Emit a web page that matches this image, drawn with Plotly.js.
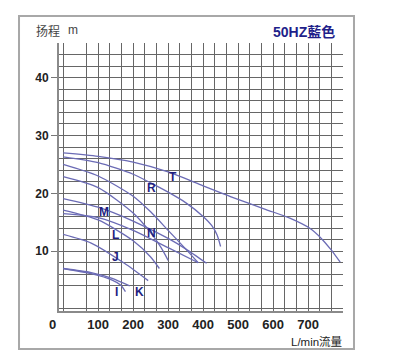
<!DOCTYPE html>
<html><head><meta charset="utf-8">
<script src="https://cdn.plot.ly/plotly-3.0.1.min.js"></script>
<style>html,body{margin:0;padding:0;background:#fff}#c{width:402px;height:360px}</style>
</head><body><div id="c"></div>
<script>
// Pump curves: flow (L/min) vs head (m)
const curveT = {x:[0,100,200,300,400,480,580,648,705,738,765,792], y:[27.0,26.4,25.4,23.7,21.3,19.4,17.2,15.7,13.95,12.2,10.3,8.1]};
const curveR = {x:[0,100,200,250,300,350,400,425,440,450], y:[26.3,25.3,23.3,21.8,20.2,18.4,16.0,14.4,12.8,10.8]};
const curveC = {x:[0,100,200,250,300,350,386], y:[25.0,23.0,19.5,16.8,13.6,10.4,8.0]};
const curveD = {x:[0,100,200,250,280,300], y:[22.9,21.0,16.6,13.2,10.6,8.4]};
const curveE = {x:[0,100,200,300,350,410], y:[19.1,17.6,15.2,12.2,10.4,7.9]};
const curveL = {x:[0,100,200,250,275], y:[17.1,15.4,11.8,9.0,7.0]};
const curveN = {x:[0,100,200,300,386], y:[16.5,15.8,13.6,10.6,8.0]};
const curveJ = {x:[0,80,175,243], y:[12.9,11.4,7.9,4.9]};
const curveI = {x:[0,80,140,165,178], y:[7.0,6.1,5.0,4.1,3.0]};
const curveK = {x:[0,80,140,190], y:[7.0,6.3,5.3,4.0]};
const curves = [curveT,curveR,curveC,curveD,curveE,curveL,curveN,curveJ,curveI,curveK];

const labelText = ['T','R','M','L','N','J','I','K'];
const labelX = [315,253,116,149,252,149,153,217];
const labelY = [22.9,20.9,16.8,12.8,13.1,9.0,2.9,2.9];

const xTickVals = [100,200,300,400,500,600,700];
const xTickText = ['100','200','300','400','500','600','700'];
const xGridVals = [0,66.67,100,133.33,166.67,200,233.33,266.67,300,333.33,366.67,400,433.33,466.67,500,533.33,566.67,600,633.33,666.67,700,733.33,766.67,800];
const yTickVals = [10,20,30,40];
const yGridVals = [0,4,6,8,10,12,14,16,18,20,22,24,26,28,30,32,34,36,38,40,42,44,46];

const lineColor = '#6b6bb5';
const traces = curves.map(c => ({x:c.x, y:c.y, type:'scatter', mode:'lines', line:{color:lineColor, width:1.3, shape:'spline', smoothing:0.7}, hoverinfo:'skip', showlegend:false}));

const annotations = labelText.map((t,i) => ({x:labelX[i], y:labelY[i], xref:'x', yref:'y', text:t, showarrow:false, font:{family:'Liberation Sans, Arial', size:12, color:'#1f1f80', weight:'bold'}}));
annotations.push(
  {xref:'paper', yref:'paper', x:-0.088, y:1.0485, xanchor:'left', yanchor:'middle', text:'扬程', showarrow:false, font:{family:'Noto Sans CJK SC, Liberation Sans', size:12, color:'#444'}},
  {xref:'paper', yref:'paper', x:0.0493, y:1.0485, xanchor:'center', yanchor:'middle', text:'m', showarrow:false, font:{family:'Liberation Sans, Arial', size:12, color:'#444'}},
  {xref:'paper', yref:'paper', x:0.979, y:1.041, xanchor:'right', yanchor:'middle', text:'<b>50HZ藍色</b>', showarrow:false, font:{family:'Liberation Sans, Noto Sans CJK TC', size:14, color:'#1f1f8a'}},
  {xref:'paper', yref:'paper', x:1.0035, y:-0.112, xanchor:'right', yanchor:'middle', text:'L/min流量', showarrow:false, font:{family:'Liberation Sans, Noto Sans CJK SC', size:11.5, color:'#222'}},
  {xref:'paper', yref:'paper', x:-0.0246, y:-0.0522, xanchor:'center', yanchor:'middle', text:'<b>0</b>', showarrow:false, font:{family:'Liberation Sans', size:13, color:'#222'}}
);

const layout = {
  width:402, height:360,
  margin:{l:59, r:59, t:43, b:49},
  paper_bgcolor:'#fff', plot_bgcolor:'#fff',
  showlegend:false,
  xaxis:{range:[-12,800], tickmode:'array', tickvals:xTickVals, ticktext:xTickText, ticks:'', 
    showgrid:true, gridcolor:'#666', gridwidth:1, zeroline:false, showline:true, linecolor:'#8a8a8a', linewidth:2,
    tickfont:{family:'Liberation Sans, Arial', size:13, color:'#222', weight:'bold'},
    minor:{tickmode:'array', tickvals:xGridVals, showgrid:true, gridcolor:'#666', gridwidth:1, ticks:''}},
  yaxis:{range:[-0.35,46], tickmode:'array', tickvals:yTickVals, ticks:'outside', ticklen:6, tickcolor:'#777', tickwidth:1,
    showgrid:true, gridcolor:'#666', gridwidth:1, zeroline:false, showline:true, linecolor:'#8a8a8a', linewidth:2,
    tickfont:{family:'Liberation Sans, Arial', size:12, color:'#222', weight:'bold'},
    minor:{tickmode:'array', tickvals:yGridVals, showgrid:true, gridcolor:'#666', gridwidth:1, ticks:''}},
  shapes:[{type:'rect', xref:'paper', yref:'paper', x0:-0.1408, x1:1.0387, y0:-0.1418, y1:1.1007, line:{color:'#a8a8a8', width:2}, fillcolor:'rgba(0,0,0,0)', layer:'below'}],
  annotations:annotations
};
Plotly.newPlot('c', traces, layout, {staticPlot:true, displayModeBar:false});
</script></body></html>
